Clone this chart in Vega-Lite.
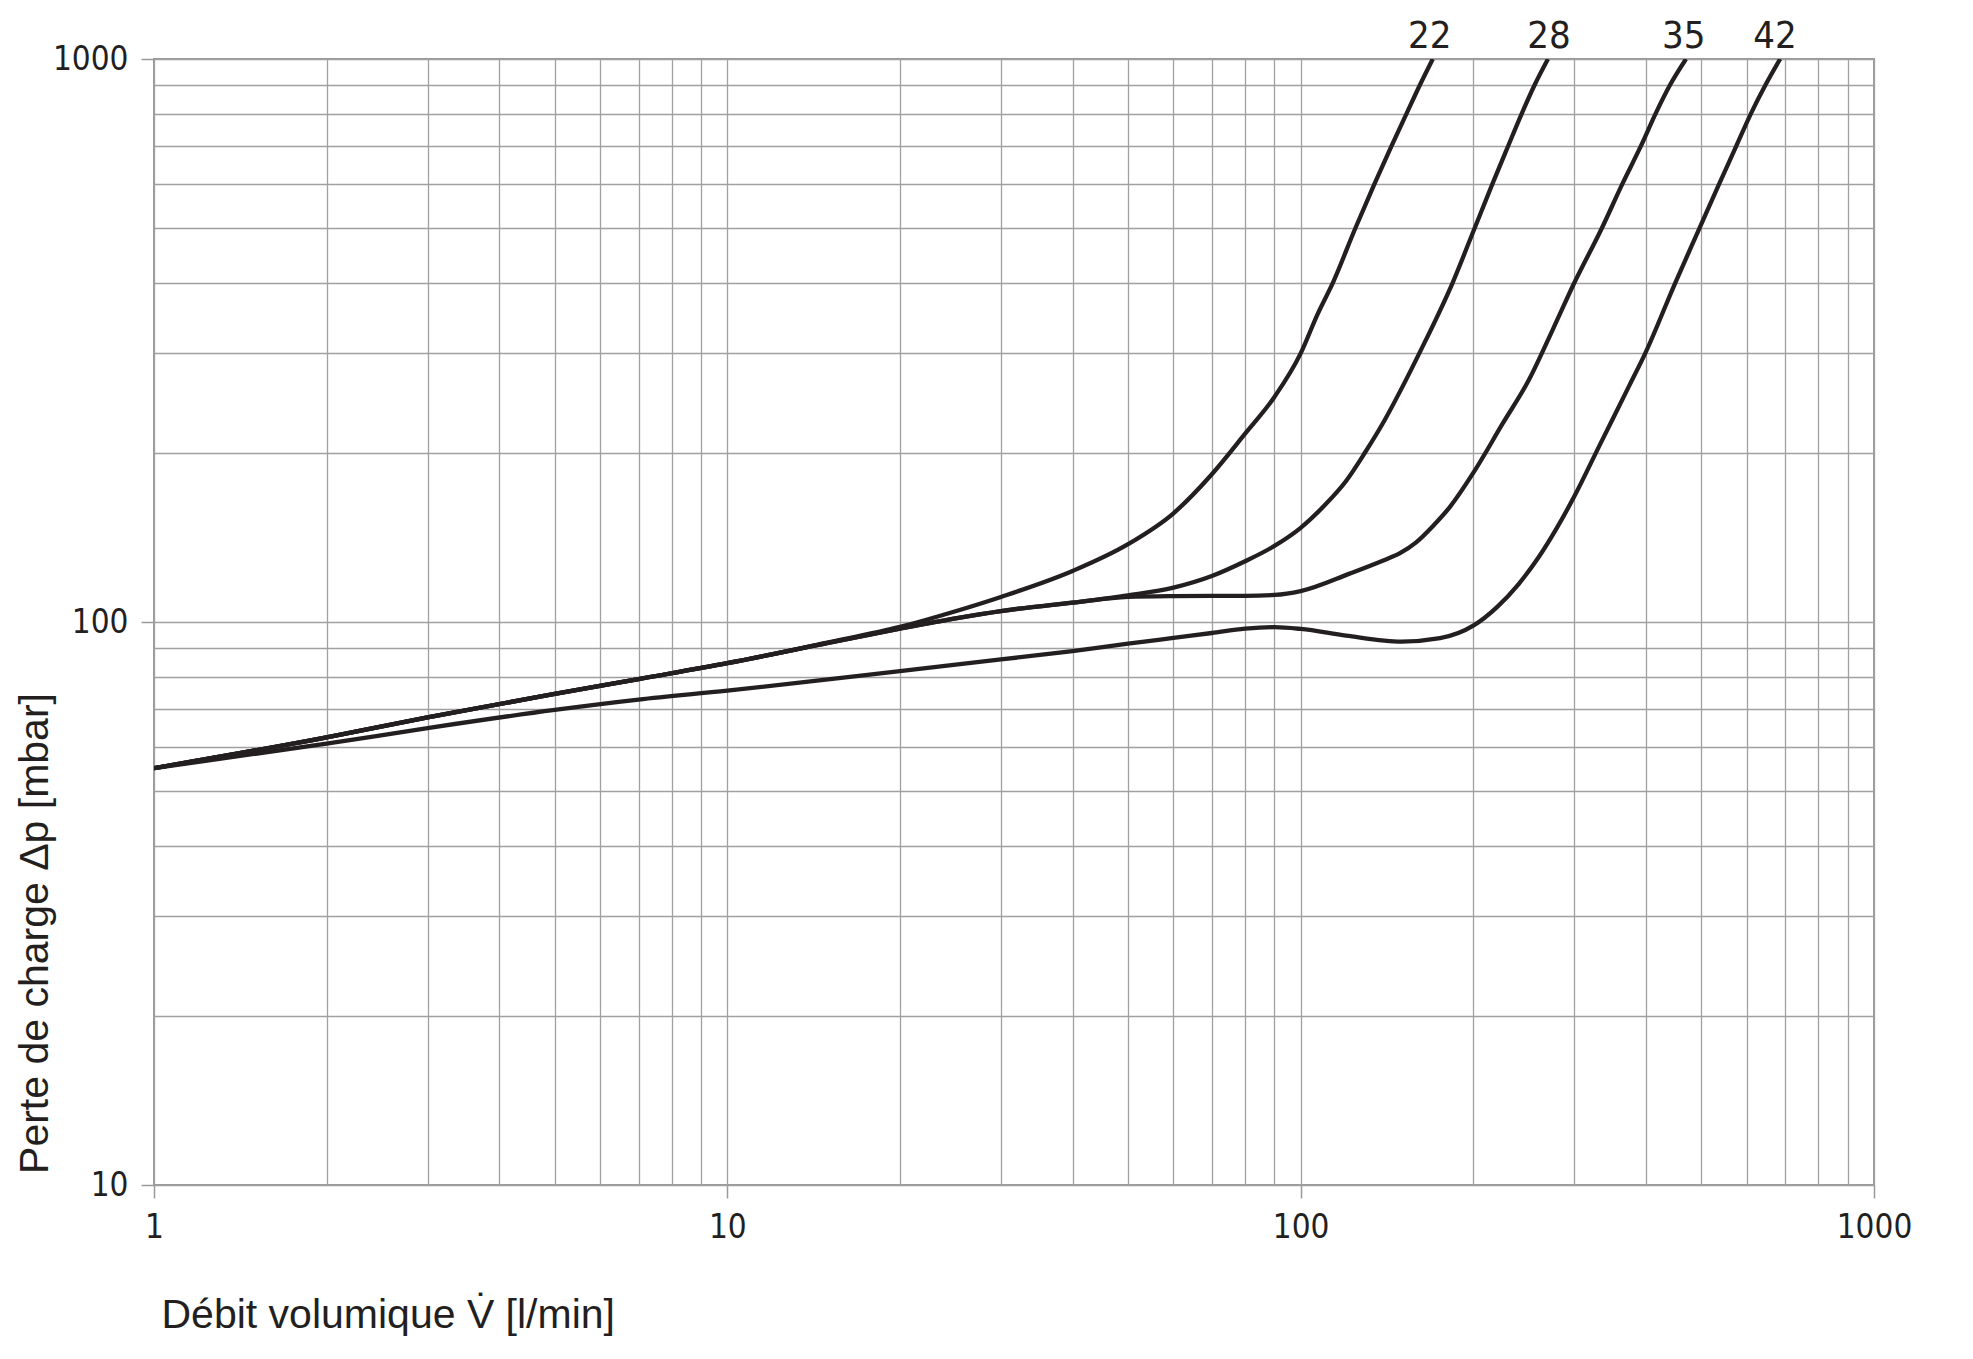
{
  "$schema": "https://vega.github.io/schema/vega-lite/v6.json",
  "width": 1720,
  "height": 1126,
  "autosize": {"type": "none"},
  "padding": {"left": 154, "top": 59, "right": 99, "bottom": 174},
  "background": "white",
  "config": {"view": {"stroke": "#9a9a9a", "strokeWidth": 2}},
  "datasets": {
    "curves": [
      {"size": "22", "flow": 1, "dp": 55}, {"size": "22", "flow": 2, "dp": 62.4}, {"size": "22", "flow": 3, "dp": 67.7}, {"size": "22", "flow": 5, "dp": 74.5}, {"size": "22", "flow": 7, "dp": 79.2}, {"size": "22", "flow": 10, "dp": 84.5}, {"size": "22", "flow": 15, "dp": 92}, {"size": "22", "flow": 20, "dp": 98}, {"size": "22", "flow": 25, "dp": 104.5}, {"size": "22", "flow": 30, "dp": 110.8}, {"size": "22", "flow": 40, "dp": 123.2}, {"size": "22", "flow": 50, "dp": 137.5}, {"size": "22", "flow": 60, "dp": 156}, {"size": "22", "flow": 70, "dp": 183}, {"size": "22", "flow": 80, "dp": 216}, {"size": "22", "flow": 90, "dp": 251}, {"size": "22", "flow": 100, "dp": 300}, {"size": "22", "flow": 107, "dp": 352}, {"size": "22", "flow": 114, "dp": 402}, {"size": "22", "flow": 124.5, "dp": 500}, {"size": "22", "flow": 134.5, "dp": 600}, {"size": "22", "flow": 144, "dp": 700}, {"size": "22", "flow": 153, "dp": 800}, {"size": "22", "flow": 161.5, "dp": 900}, {"size": "22", "flow": 170, "dp": 1000},
      {"size": "28", "flow": 1, "dp": 55}, {"size": "28", "flow": 2, "dp": 62.4}, {"size": "28", "flow": 3, "dp": 67.7}, {"size": "28", "flow": 5, "dp": 74.5}, {"size": "28", "flow": 7, "dp": 79.2}, {"size": "28", "flow": 10, "dp": 84.5}, {"size": "28", "flow": 15, "dp": 91.8}, {"size": "28", "flow": 20, "dp": 97.3}, {"size": "28", "flow": 25, "dp": 101.5}, {"size": "28", "flow": 30, "dp": 104.6}, {"size": "28", "flow": 40, "dp": 108.2}, {"size": "28", "flow": 50, "dp": 111.5}, {"size": "28", "flow": 60, "dp": 115.1}, {"size": "28", "flow": 70, "dp": 120.7}, {"size": "28", "flow": 80, "dp": 128.2}, {"size": "28", "flow": 90, "dp": 136.5}, {"size": "28", "flow": 100, "dp": 147}, {"size": "28", "flow": 110, "dp": 161}, {"size": "28", "flow": 120, "dp": 178}, {"size": "28", "flow": 129.5, "dp": 200}, {"size": "28", "flow": 140, "dp": 228}, {"size": "28", "flow": 150, "dp": 260}, {"size": "28", "flow": 161, "dp": 300}, {"size": "28", "flow": 184, "dp": 400}, {"size": "28", "flow": 201, "dp": 500}, {"size": "28", "flow": 216, "dp": 600}, {"size": "28", "flow": 230, "dp": 700}, {"size": "28", "flow": 243, "dp": 800}, {"size": "28", "flow": 256, "dp": 900}, {"size": "28", "flow": 270, "dp": 1000},
      {"size": "35", "flow": 1, "dp": 55}, {"size": "35", "flow": 2, "dp": 62.4}, {"size": "35", "flow": 3, "dp": 67.7}, {"size": "35", "flow": 5, "dp": 74.5}, {"size": "35", "flow": 7, "dp": 79.2}, {"size": "35", "flow": 10, "dp": 84.5}, {"size": "35", "flow": 15, "dp": 91.8}, {"size": "35", "flow": 20, "dp": 97.3}, {"size": "35", "flow": 25, "dp": 101.5}, {"size": "35", "flow": 30, "dp": 104.6}, {"size": "35", "flow": 40, "dp": 108.2}, {"size": "35", "flow": 50, "dp": 110.8}, {"size": "35", "flow": 60, "dp": 111.2}, {"size": "35", "flow": 70, "dp": 111.3}, {"size": "35", "flow": 80, "dp": 111.3}, {"size": "35", "flow": 90, "dp": 111.7}, {"size": "35", "flow": 100, "dp": 113.5}, {"size": "35", "flow": 122, "dp": 122}, {"size": "35", "flow": 139, "dp": 128.5}, {"size": "35", "flow": 149, "dp": 132.5}, {"size": "35", "flow": 159, "dp": 138.5}, {"size": "35", "flow": 170, "dp": 148}, {"size": "35", "flow": 182, "dp": 160}, {"size": "35", "flow": 200, "dp": 184}, {"size": "35", "flow": 225, "dp": 225}, {"size": "35", "flow": 250, "dp": 269}, {"size": "35", "flow": 275, "dp": 330}, {"size": "35", "flow": 300, "dp": 400}, {"size": "35", "flow": 335, "dp": 500}, {"size": "35", "flow": 364, "dp": 600}, {"size": "35", "flow": 392, "dp": 700}, {"size": "35", "flow": 416, "dp": 800}, {"size": "35", "flow": 441, "dp": 900}, {"size": "35", "flow": 470, "dp": 1000},
      {"size": "42", "flow": 1, "dp": 55}, {"size": "42", "flow": 2, "dp": 60.8}, {"size": "42", "flow": 3, "dp": 64.8}, {"size": "42", "flow": 5, "dp": 69.8}, {"size": "42", "flow": 7, "dp": 72.8}, {"size": "42", "flow": 10, "dp": 75.5}, {"size": "42", "flow": 20, "dp": 81.8}, {"size": "42", "flow": 30, "dp": 85.8}, {"size": "42", "flow": 40, "dp": 88.8}, {"size": "42", "flow": 50, "dp": 91.5}, {"size": "42", "flow": 60, "dp": 93.7}, {"size": "42", "flow": 70, "dp": 95.6}, {"size": "42", "flow": 80, "dp": 97.3}, {"size": "42", "flow": 90, "dp": 97.9}, {"size": "42", "flow": 100, "dp": 97.2}, {"size": "42", "flow": 120, "dp": 94.6}, {"size": "42", "flow": 150, "dp": 92.3}, {"size": "42", "flow": 175, "dp": 93.6}, {"size": "42", "flow": 200, "dp": 98.5}, {"size": "42", "flow": 220, "dp": 106.3}, {"size": "42", "flow": 240, "dp": 116.8}, {"size": "42", "flow": 260, "dp": 130.3}, {"size": "42", "flow": 280, "dp": 147.1}, {"size": "42", "flow": 300, "dp": 167}, {"size": "42", "flow": 333, "dp": 207}, {"size": "42", "flow": 375, "dp": 264}, {"size": "42", "flow": 399, "dp": 300}, {"size": "42", "flow": 450, "dp": 400}, {"size": "42", "flow": 496, "dp": 500}, {"size": "42", "flow": 537, "dp": 600}, {"size": "42", "flow": 575, "dp": 700}, {"size": "42", "flow": 610, "dp": 800}, {"size": "42", "flow": 647, "dp": 900}, {"size": "42", "flow": 686, "dp": 1000}
    ],
    "labels": [
      {"size": "22", "flow": 168, "dp": 1000},
      {"size": "28", "flow": 271, "dp": 1000},
      {"size": "35", "flow": 466, "dp": 1000},
      {"size": "42", "flow": 672, "dp": 1000}
    ]
  },
  "encoding": {
    "x": {
      "field": "flow", "type": "quantitative",
      "scale": {"type": "log", "domain": [1, 1000], "nice": false},
      "axis": {
        "values": [1,2,3,4,5,6,7,8,9,10,20,30,40,50,60,70,80,90,100,200,300,400,500,600,700,800,900,1000],
        "grid": true, "gridColor": "#a0a0a0", "gridWidth": 1.3,
        "domain": false,
        "ticks": true, "tickColor": "#9a9a9a", "tickWidth": 1.5, "tickSize": 13,
        "tickOpacity": {"condition": {"test": "datum.value==1||datum.value==10||datum.value==100||datum.value==1000", "value": 1}, "value": 0},
        "labelExpr": "(datum.value==1||datum.value==10||datum.value==100||datum.value==1000) ? ''+datum.value : ''",
        "labelOverlap": false, "labelFlush": false, "labelBound": false,
        "labelFont": "Liberation Sans Narrow, DejaVu Sans Condensed, sans-serif",
        "labelFontSize": 33, "labelColor": "#231f20",
        "labelBaseline": "middle", "labelPadding": 29,
        "title": "Débit volumique V̇ [l/min]",
        "titleFont": "Liberation Sans", "titleFontSize": 41, "titleFontWeight": "normal", "titleColor": "#231f20",
        "titleAnchor": "start", "titleAlign": "left", "titleX": 7, "titleY": 130, "titleBaseline": "middle"
      }
    },
    "y": {
      "field": "dp", "type": "quantitative",
      "scale": {"type": "log", "domain": [10, 1000], "nice": false},
      "axis": {
        "values": [10,20,30,40,50,60,70,80,90,100,200,300,400,500,600,700,800,900,1000],
        "grid": true, "gridColor": "#a0a0a0", "gridWidth": 1.3,
        "domain": false,
        "ticks": true, "tickColor": "#9a9a9a", "tickWidth": 1.5, "tickSize": 13,
        "tickOpacity": {"condition": {"test": "datum.value==10||datum.value==100||datum.value==1000", "value": 1}, "value": 0},
        "labelExpr": "(datum.value==10||datum.value==100||datum.value==1000) ? ''+datum.value : ''",
        "labelOverlap": false, "labelFlush": false, "labelBound": false,
        "labelFont": "Liberation Sans Narrow, DejaVu Sans Condensed, sans-serif",
        "labelFontSize": 33, "labelColor": "#231f20",
        "labelPadding": 13,
        "title": "Perte de charge Δp [mbar]",
        "titleFont": "Liberation Sans", "titleFontSize": 41, "titleFontWeight": "normal", "titleColor": "#231f20",
        "titleAngle": -90, "titleAlign": "center", "titleBaseline": "middle",
        "titleX": -119, "titleY": 874
      }
    }
  },
  "layer": [
    {
      "data": {"name": "curves"},
      "mark": {"type": "line", "interpolate": "monotone", "color": "#231f20", "strokeWidth": 4.3, "clip": true},
      "encoding": {"detail": {"field": "size", "type": "nominal"}}
    },
    {
      "data": {"name": "labels"},
      "mark": {"type": "text", "dy": -22, "fontSize": 38, "font": "Liberation Sans Narrow, DejaVu Sans Condensed, sans-serif", "color": "#231f20", "baseline": "middle", "align": "center"},
      "encoding": {"text": {"field": "size", "type": "nominal"}}
    }
  ]
}
